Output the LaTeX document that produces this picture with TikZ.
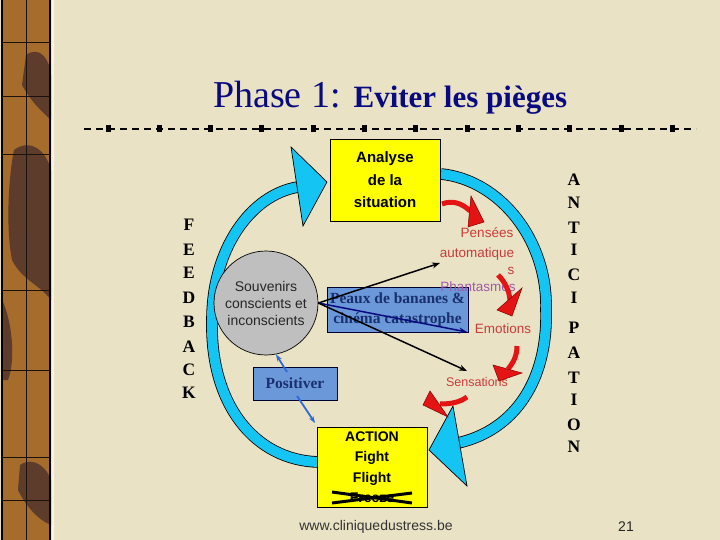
\documentclass[tikz,border=0pt]{standalone}
\usepackage{fontspec}
\setmainfont{Liberation Serif}
\newfontfamily\arial{Liberation Sans}
\usetikzlibrary{arrows.meta}
\definecolor{bg}{HTML}{E9E2C4}
\definecolor{navy}{HTML}{0A0A80}
\definecolor{ringc}{HTML}{14C4F2}
\definecolor{ylw}{HTML}{FFFF00}
\definecolor{bbox}{HTML}{6B98D9}
\definecolor{btext}{HTML}{1A2F6E}
\definecolor{redt}{HTML}{C83C3C}
\definecolor{purp}{HTML}{A05AA8}
\definecolor{redf}{HTML}{E41414}
\definecolor{bluea}{HTML}{2E6AD6}
\definecolor{stripc}{HTML}{A66C2C}
\definecolor{stripd}{HTML}{5E3C2C}
\tikzset{
  ring/.style={draw=black, line width=0.8pt, double=ringc, double distance=10pt},
  ringhead/.style={fill=ringc, draw=black, line width=0.7pt, line join=miter},
  ybox/.style={draw=black, fill=ylw, line width=0.7pt, align=center, inner sep=0pt},
  bluebox/.style={draw=black!80!blue, fill=bbox, line width=0.7pt, align=center, inner sep=0pt,
    text=btext, font=\bfseries\fontsize{15.5}{20}\selectfont},
  redlbl/.style={text=redt, font=\arial\fontsize{13.5}{16}\selectfont, inner sep=0pt},
  redshaft/.style={draw=redf, line width=5pt},
  redhead/.style={fill=redf, draw=red!50!black, line width=0.5pt},
  blkarr/.style={draw=black, line width=1.5pt, -{Stealth[length=8pt,width=6pt]}},
  navarr/.style={draw=navy, line width=1.5pt, -{Stealth[length=8pt,width=6pt]}},
  bluearr/.style={draw=bluea, line width=1.8pt, -{Stealth[length=7pt,width=5pt]}},
  vletter/.style={font=\bfseries\fontsize{17.5}{20}\selectfont, inner sep=0pt}
}
\begin{document}
\begin{tikzpicture}[x=1pt,y=-1pt]
\useasboundingbox (0,0) rectangle (720,540);
\fill[bg] (0,0) rectangle (720,540);
% left strip
\fill[stripc] (1,0) rectangle (51,540);
\fill[stripd] (14,150) .. controls (30,138) and (46,150) .. (51,170) -- (51,300) .. controls (40,285) and (22,280) .. (12,260) .. controls (6,230) and (8,180) .. cycle;
\fill[stripd] (26,55) .. controls (40,45) and (50,60) .. (51,75) -- (51,120) .. controls (40,110) and (30,100) .. (22,85) -- cycle;
\fill[stripd] (20,465) .. controls (35,455) and (48,470) .. (51,480) -- (51,525) .. controls (38,520) and (25,505) .. (18,490) -- cycle;
\fill[stripd] (2,300) .. controls (12,320) and (16,360) .. (8,380) -- (2,380) -- cycle;
\draw[black, line width=1.2pt] (2,0) -- (2,540) (50,0) -- (50,540);
\draw[black!70!stripd, line width=0.8pt] (26,0) -- (26,540);
\foreach \yy in {42,96,154,290,370,457,500} {\draw[black!70!stripd, line width=0.8pt] (2,\yy) -- (50,\yy);}
\draw[white!60!bg, line width=1.5pt] (53,0) -- (53,540);
% title
\node[anchor=base west, text=navy, inner sep=0pt] (title) at (213,108)
  {\fontsize{38}{40}\selectfont Phase 1: {\bfseries\fontsize{31}{33}\selectfont Eviter les pièges}};
% separator
\draw[black, line width=1.2pt, dash pattern=on 7pt off 5pt] (84,129) -- (696,129);
\foreach \k in {0,...,11} {\fill[black] ({108+51.3*\k-2.5},125.5) rectangle ({108+51.3*\k+2.5},132.5);}
% ring
\draw[ring] (441,174) .. controls (500,180) and (548,240) .. (546,310) .. controls (548,380) and (515,430) .. (458,443);
\draw[ring] (318,462) .. controls (255,460) and (210,405) .. (212,320) .. controls (212,250) and (250,195) .. (298,187);
\filldraw[ringhead] (327,182) -- (291,147) -- (303,226) -- cycle;
\filldraw[ringhead] (429,450) -- (453,406) -- (467,486) -- cycle;
% boxes
\node[ybox, minimum width=110pt, minimum height=82pt, font=\arial\bfseries\fontsize{15}{22.5}\selectfont] (analyse) at (385,180) {Analyse\\de la\\situation};
\node[ybox, minimum width=110pt, minimum height=80pt, font=\arial\bfseries\fontsize{14}{20.5}\selectfont] (action) at (372,467) {ACTION\\Fight\\Flight\\Freeze};
\draw[black, line width=3pt] (332,492) -- (412,503) (332,503) -- (412,493);
\node[circle, draw=black, fill=black!25, line width=0.7pt, minimum size=104pt, inner sep=0pt, align=center,
  font=\arial\fontsize{14}{17}\selectfont, text=black!85] (souv) at (266,303) {Souvenirs\\conscients et\\inconscients};
\node[bluebox, minimum width=141pt, minimum height=45pt] (peaux) at (397.5,309.5) {Peaux de bananes \&\\cinéma catastrophe};
\node[bluebox, minimum width=84pt, minimum height=33pt] (pos) at (295,383.5) {Positiver};
% red labels
\node[redlbl] (pens) at (487,233) {Pensées};
\node[redlbl] (auto) at (477,254) {automatique};
\node[redlbl] (autos) at (511,271) {s};
\node[redlbl, text=purp] (phant) at (478,287) {Phantasmes};
\node[redlbl] (emot) at (503,329) {Emotions};
\node[redlbl, font=\arial\fontsize{12.5}{15}\selectfont] (sens) at (477,382) {Sensations};
% red arrows
\draw[redshaft] (442,204) .. controls (452,200) and (462,203) .. (470,211);
\filldraw[redhead] (471,196) -- (484,222) -- (468,227) -- cycle;
\draw[redshaft] (498,275) .. controls (505,282) and (509,290) .. (510,300);
\filldraw[redhead] (522,288) -- (512,316) -- (497,310) -- cycle;
\draw[redshaft] (517,346) .. controls (517,355) and (514,362) .. (508,369);
\filldraw[redhead] (493,365) -- (522,373) -- (499,381) -- cycle;
\draw[redshaft] (467,397) .. controls (460,402) and (452,404) .. (440,404);
\filldraw[redhead] (430,391) -- (423,405) -- (448,417) -- cycle;
% connectors from souvenirs
\coordinate (pa) at (440,263);
\coordinate (pb) at (467,332);
\coordinate (pc) at (467,371);
\draw[blkarr] (souv.east) -- (pa);
\draw[navarr] (souv.east) -- (pb);
\draw[blkarr] (souv.east) -- (pc);
% positiver arrows
\draw[bluearr] (287,372) -- (souv.-79);
\draw[bluearr] (297,396) -- (315,423);
% side letters
\foreach \l/\yy [count=\i] in {F/225,E/250,E/273,D/298,B/322,A/347,C/370,K/393}
  {\node[vletter] (fb\i) at (189,\yy) {\l};}
\foreach \l/\yy [count=\i] in {A/180,N/203,T/228,I/250,C/275,I/298,P/328,A/353,T/378,I/400,O/425,N/447}
  {\node[vletter] (an\i) at (574,\yy) {\l};}
% footer
\node[font=\arial\fontsize{14}{16}\selectfont, text=black!80, inner sep=0pt] (web) at (376,527) {www.cliniquedustress.be};
\node[font=\arial\fontsize{14}{16}\selectfont, text=black!85, inner sep=0pt] (num) at (626,527) {21};
\end{tikzpicture}
\end{document}
